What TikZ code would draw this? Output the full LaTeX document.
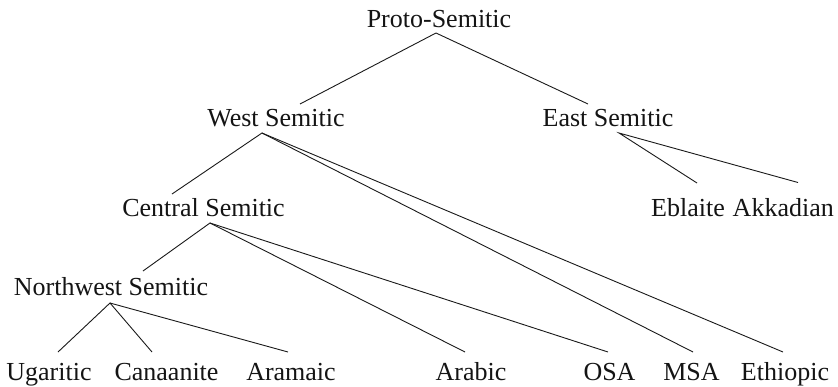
\documentclass[tikz,border=0pt]{standalone}
\usepackage{fontspec}
\setmainfont{Liberation Serif}
\begin{document}
\begin{tikzpicture}[x=1pt,y=-1pt,
  lang/.style={inner sep=0pt,anchor=base,font=\fontsize{26}{30}\selectfont,text=black!92},
  branch/.style={draw=black!90,line width=0.9pt}]
\useasboundingbox (0,0) rectangle (838,386);
% nodes
\node[lang] (ps) at (439,27) {Proto-Semitic};
\node[lang] (ws) at (276,126) {West Semitic};
\node[lang] (es) at (608,126) {East Semitic};
\node[lang,anchor=base west] (eb) at (651,216) {Eblaite};
\node[lang,anchor=base east] (ak) at (834,216) {Akkadian};
\node[lang] (cs) at (203.5,216) {Central Semitic};
\node[lang] (nw) at (111,295) {Northwest Semitic};
\node[lang] (ug) at (49,380) {Ugaritic};
\node[lang] (ca) at (166.5,380) {Canaanite};
\node[lang] (ar) at (291,380) {Aramaic};
\node[lang] (ab) at (471,380) {Arabic};
\node[lang] (os) at (609.5,380) {OSA};
\node[lang] (ms) at (691.5,380) {MSA};
\node[lang] (et) at (785,380) {Ethiopic};
% connector ends
\coordinate (ps-b) at (436,33);
\coordinate (ws-t) at (300,104);
\coordinate (es-t) at (588,104);
\coordinate (ws-b) at (262,133);
\coordinate (es-b) at (619,133);
\coordinate (eb-t) at (697,183);
\coordinate (ak-t) at (798,182.5);
\coordinate (cs-t) at (172,194);
\coordinate (cs-b) at (210,223);
\coordinate (nw-t) at (143,271);
\coordinate (nw-b) at (110,303);
\coordinate (ug-t) at (58,352);
\coordinate (ca-t) at (152,352);
\coordinate (ar-t) at (288,352);
\coordinate (ab-t) at (465,352);
\coordinate (os-t) at (608,352);
\coordinate (ms-t) at (693,352);
\coordinate (et-t) at (783,352);
% connectors
\draw[branch] (ws-t) -- (ps-b) -- (es-t);
\draw[branch] (eb-t) -- (es-b) -- (ak-t);
\draw[branch] (cs-t) -- (ws-b) -- (ms-t);
\draw[branch] (ws-b) -- (et-t);
\draw[branch] (nw-t) -- (cs-b) -- (ab-t);
\draw[branch] (cs-b) -- (os-t);
\draw[branch] (ug-t) -- (nw-b) -- (ca-t);
\draw[branch] (nw-b) -- (ar-t);
\end{tikzpicture}
\end{document}
